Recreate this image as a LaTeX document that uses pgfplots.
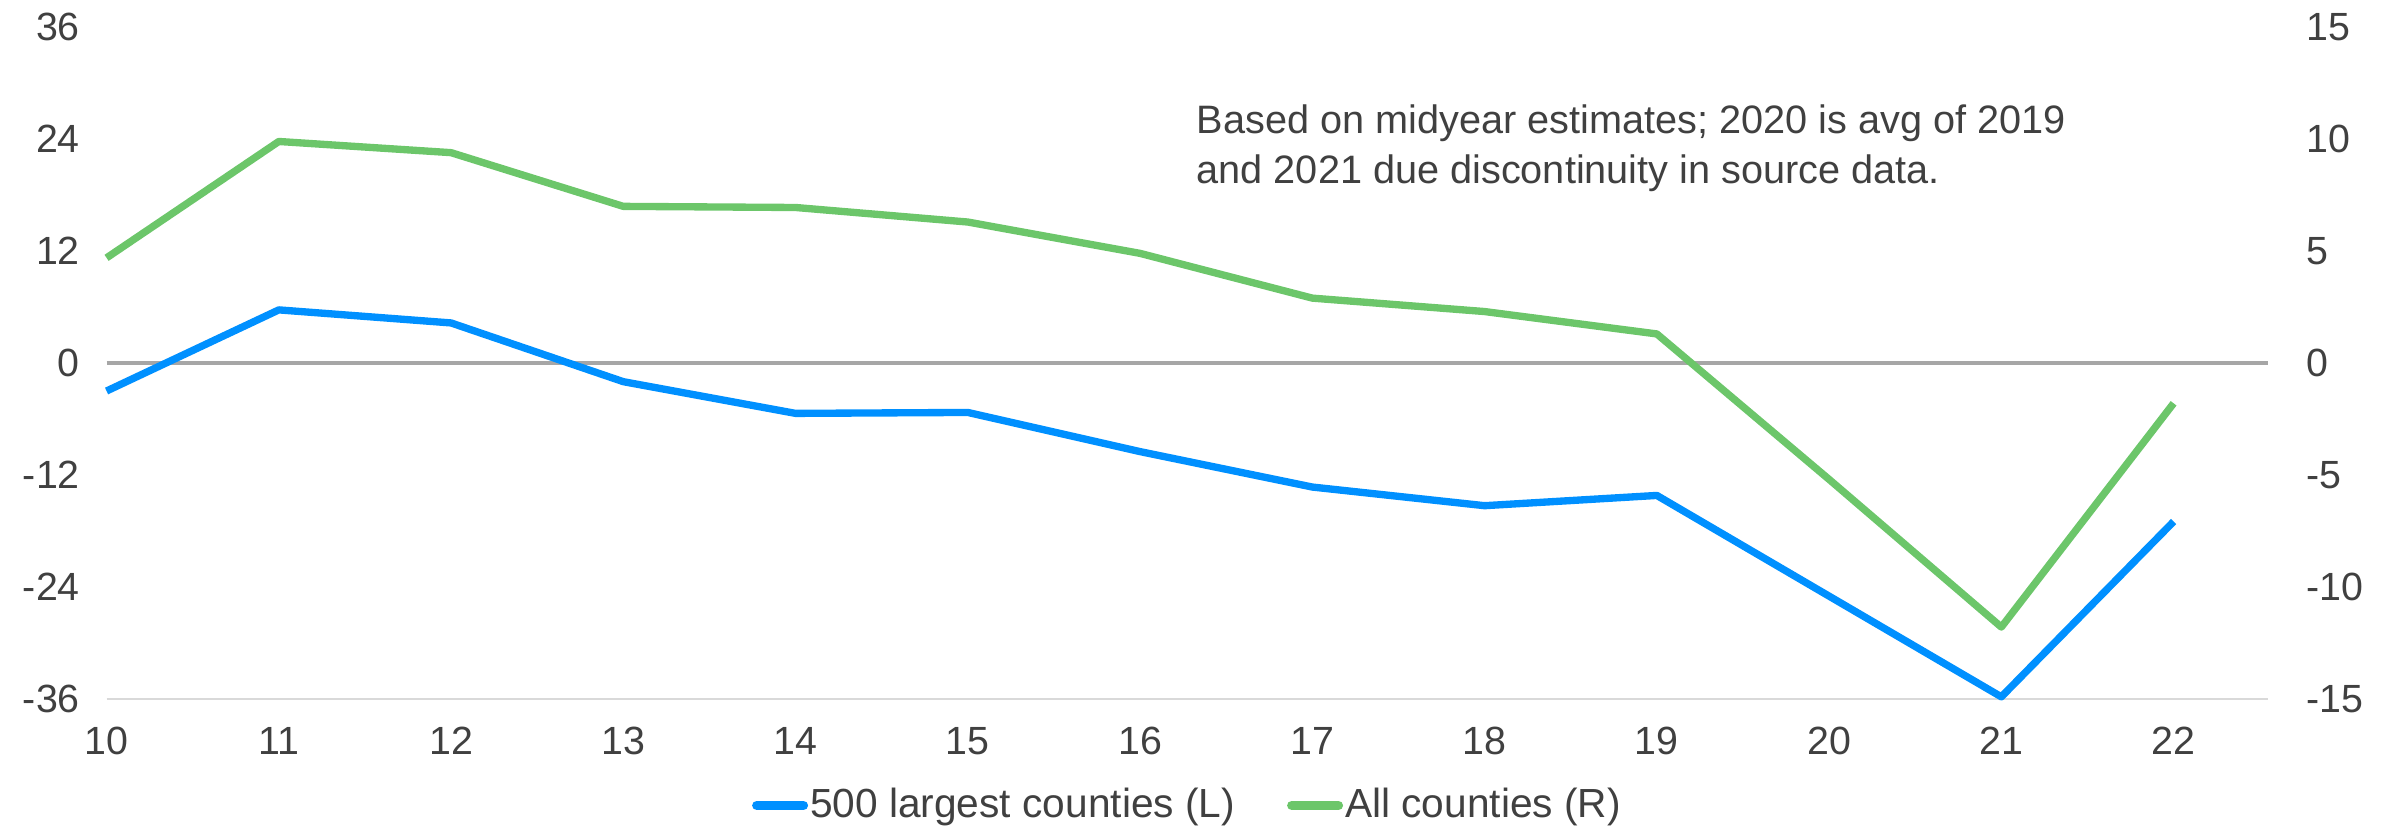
\documentclass[border=0pt]{standalone}
\usepackage{pgfplots}
\pgfplotsset{compat=1.18}
\usepackage{fontspec}
\setmainfont{Liberation Sans}

\definecolor{txt}{HTML}{404040}
\definecolor{blueL}{HTML}{0090FF}
\definecolor{greenR}{HTML}{6CC66A}
\definecolor{zeroc}{HTML}{A6A6A6}
\definecolor{gridc}{HTML}{D9D9D9}

\pgfplotsset{
  base/.style={
    width=648.5pt, height=201.4pt,
    scale only axis,
    xmin=10, xmax=22.55,
    clip=false,
    tick style={draw=none},
    font=\fontsize{11.8}{14}\selectfont,
    tick label style={text=txt, /pgf/number format/assume math mode=true},
  },
}

\begin{document}
\begin{tikzpicture}
  % left axis: 500 largest counties
  \begin{axis}[
      base,
      ymin=-36, ymax=36,
      ytick={-36,-24,-12,0,12,24,36},
      xtick={10,11,...,22},
      axis x line*=bottom,
      axis y line*=left,
      x axis line style={draw=gridc, line width=0.7pt, -},
      y axis line style={draw=none},
      xticklabel style={yshift=-5pt},
      yticklabel style={xshift=-4.5pt},
      legend style={
        at={(0.5,-0.159)}, anchor=center, draw=none,
        text=txt, font=\fontsize{12.2}{14}\selectfont,
        legend columns=2,
        /tikz/every even column/.append style={column sep=15pt},
        inner sep=0pt,
        nodes={inner sep=0.6pt},
      },
      legend cell align=left,
      legend image code/.code={
        \draw[#1, line width=2.8pt, line cap=round] (0pt,0pt) -- (14pt,0pt);
      },
    ]
    \draw[zeroc, line width=1.2pt] (axis cs:10,0) -- (axis cs:22.55,0);
    \addplot[blueL, line width=2.2pt, line join=round] coordinates {
      (10,-3.0) (11,5.7) (12,4.3) (13,-2.0) (14,-5.4) (15,-5.3) (16,-9.5)
      (17,-13.3) (18,-15.3) (19,-14.2) (20,-25.0) (21,-35.8) (22,-17.0)
    };
    \addlegendentry{500 largest counties (L)}
    \addlegendimage{greenR}
    \addlegendentry{All counties (R)}
    \node[anchor=north west, align=left, text=txt, inner sep=0pt,
          font=\fontsize{11.9}{15}\selectfont]
      at (rel axis cs:0.504,0.885)
      {Based on midyear estimates; 2020 is avg of 2019\\and 2021 due discontinuity in source data.};
    \path (rel axis cs:-0.0493,1.0408) rectangle (rel axis cs:1.0549,-0.1882);
  \end{axis}
  % right axis: all counties
  \begin{axis}[
      base,
      ymin=-15, ymax=15,
      ytick={-15,-10,-5,0,5,10,15},
      axis y line*=right,
      axis x line=none,
      y axis line style={draw=none},
      yticklabel style={xshift=8pt},
    ]
    \addplot[greenR, line width=2.2pt, line join=round] coordinates {
      (10,4.7) (11,9.9) (12,9.4) (13,7.0) (14,6.95) (15,6.3) (16,4.9)
      (17,2.9) (18,2.3) (19,1.3) (20,-5.2) (21,-11.8) (22,-1.8)
    };
  \end{axis}
\end{tikzpicture}
\end{document}
